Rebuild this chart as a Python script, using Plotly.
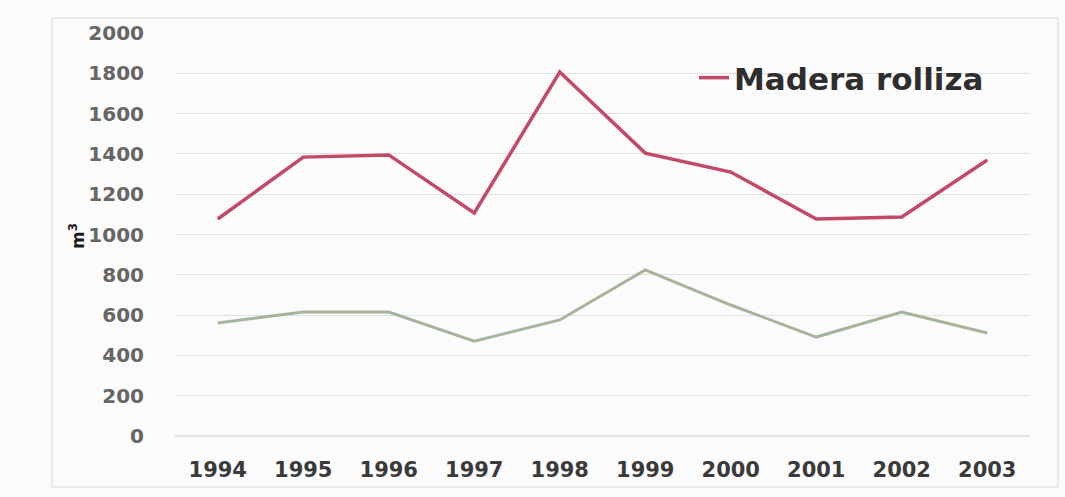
import plotly.graph_objects as go

years = ["1994", "1995", "1996", "1997", "1998", "1999", "2000", "2001", "2002", "2003"]
madera_rolliza = [1077, 1384, 1395, 1107, 1806, 1404, 1310, 1077, 1087, 1370]
otra_serie = [561, 615, 615, 471, 576, 824, 650, 491, 615, 511]
y_ticks = [0, 200, 400, 600, 800, 1000, 1200, 1400, 1600, 1800, 2000]

W, H = 1065, 497
L, R, T, B = 175, 35, 33, 61

fig = go.Figure()
fig.add_trace(go.Scatter(x=years, y=otra_serie, mode="lines",
                         line=dict(color="#a7b49c", width=3), showlegend=False))
fig.add_trace(go.Scatter(x=years, y=madera_rolliza, mode="lines", name="Madera rolliza",
                         line=dict(color="#c24a68", width=3.5)))

pw, ph = W - L - R, H - T - B
fig.add_shape(type="rect", xref="paper", yref="paper",
              x0=(52 - L) / pw, x1=(1058 - L) / pw,
              y0=(H - B - 487) / ph, y1=(H - B - 18) / ph,
              line=dict(color="#d8d8d8", width=1), fillcolor="rgba(0,0,0,0)", layer="below")

fig.add_annotation(text="m<sup>3</sup>", xref="paper", yref="paper",
                   x=(64 - L) / pw, y=(H - B - 236) / ph, showarrow=False, textangle=-90,
                   font=dict(family="DejaVu Sans", size=17, color="#1a1a1a", weight="bold"))

fig.update_layout(
    width=W, height=H,
    margin=dict(l=L, r=R, t=T, b=B),
    paper_bgcolor="#fbfbfb", plot_bgcolor="#fbfbfb",
    legend=dict(x=(694 - L) / pw, y=(H - B - 78) / ph, xanchor="left", yanchor="middle",
                bgcolor="rgba(0,0,0,0)",
                font=dict(family="DejaVu Sans", size=31, color="#2e2e2e", weight="bold")),
    xaxis=dict(type="category", range=[-0.5, 9.5], showgrid=False, showline=False, ticks="",
               ticklabelstandoff=19,
               tickfont=dict(family="DejaVu Sans", size=21, color="#3a3a3a", weight="bold")),
    yaxis=dict(range=[0, 2000], tickvals=y_ticks, showgrid=True, gridcolor="#e2e2e2",
               gridwidth=1, zeroline=True, zerolinecolor="#e2e2e2", ticks="",
               ticklabelstandoff=30,
               tickfont=dict(family="DejaVu Sans", size=20, color="#666666", weight="bold")),
)

fig.write_html("out.html")
